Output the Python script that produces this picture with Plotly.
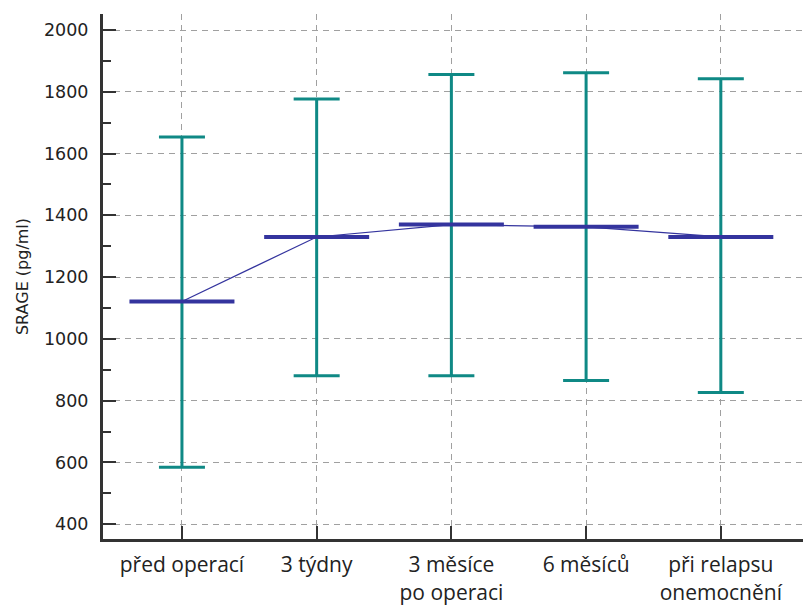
import plotly.graph_objects as go

categories = ["před operací", "3 týdny", "3 měsíce<br>po operaci", "6 měsíců", "při relapsu<br>onemocnění"]
means = [1121, 1330, 1370, 1363, 1330]
upper = [1654, 1777, 1856, 1862, 1842]
lower = [584, 881, 881, 865, 826]

x_pos = list(range(len(categories)))
err_plus = [u - m for u, m in zip(upper, means)]
err_minus = [m - l for m, l in zip(means, lower)]

TEAL = "#0f8985"
NAVY = "#34349e"

fig = go.Figure()

fig.add_trace(go.Scatter(
    x=x_pos, y=means, mode="markers",
    marker=dict(size=1, color="rgba(0,0,0,0)"),
    error_y=dict(type="data", array=err_plus, arrayminus=err_minus,
                 color=TEAL, thickness=3, width=23, visible=True),
    showlegend=False, hoverinfo="skip",
))

fig.add_trace(go.Scatter(
    x=x_pos, y=means, mode="lines",
    line=dict(color=NAVY, width=1.2),
    showlegend=False, hoverinfo="skip",
))

fig.add_trace(go.Scatter(
    x=x_pos, y=means, mode="markers",
    marker=dict(symbol="line-ew", size=75, line=dict(color=NAVY, width=4)),
    showlegend=False, hoverinfo="skip",
))

fig.update_layout(
    width=803, height=608,
    margin=dict(l=103, r=0, t=14, b=69),
    paper_bgcolor="white", plot_bgcolor="white",
    font=dict(family="DejaVu Sans", color="#222"),
)

fig.update_xaxes(
    range=[-0.586, 4.61],
    tickmode="array", tickvals=x_pos, ticktext=categories,
    tickfont=dict(family="Open Sans", size=21, color="#222"),
    ticks="inside", ticklen=13, tickwidth=2, tickcolor="#333",
    showline=True, linecolor="#333", linewidth=3,
    showgrid=True, gridcolor="#a0a0a0", gridwidth=1, griddash="6px,5px",
    zeroline=False, ticklabelstandoff=5,
)

fig.update_yaxes(
    range=[352, 2052],
    tickmode="linear", tick0=400, dtick=200,
    tickfont=dict(family="DejaVu Sans", size=17.5, color="#222"),
    ticks="inside", ticklen=13, tickwidth=2, tickcolor="#333",
    minor=dict(dtick=100, ticks="inside", ticklen=8, tickwidth=2, tickcolor="#333", showgrid=False),
    showline=True, linecolor="#333", linewidth=3,
    showgrid=True, gridcolor="#a0a0a0", gridwidth=1, griddash="6px,5px",
    zeroline=False, ticklabelstandoff=8,
    title=dict(text="SRAGE (pg/ml)", font=dict(family="DejaVu Sans", size=16, color="#222"), standoff=12),
)

fig.write_html("out.html")
